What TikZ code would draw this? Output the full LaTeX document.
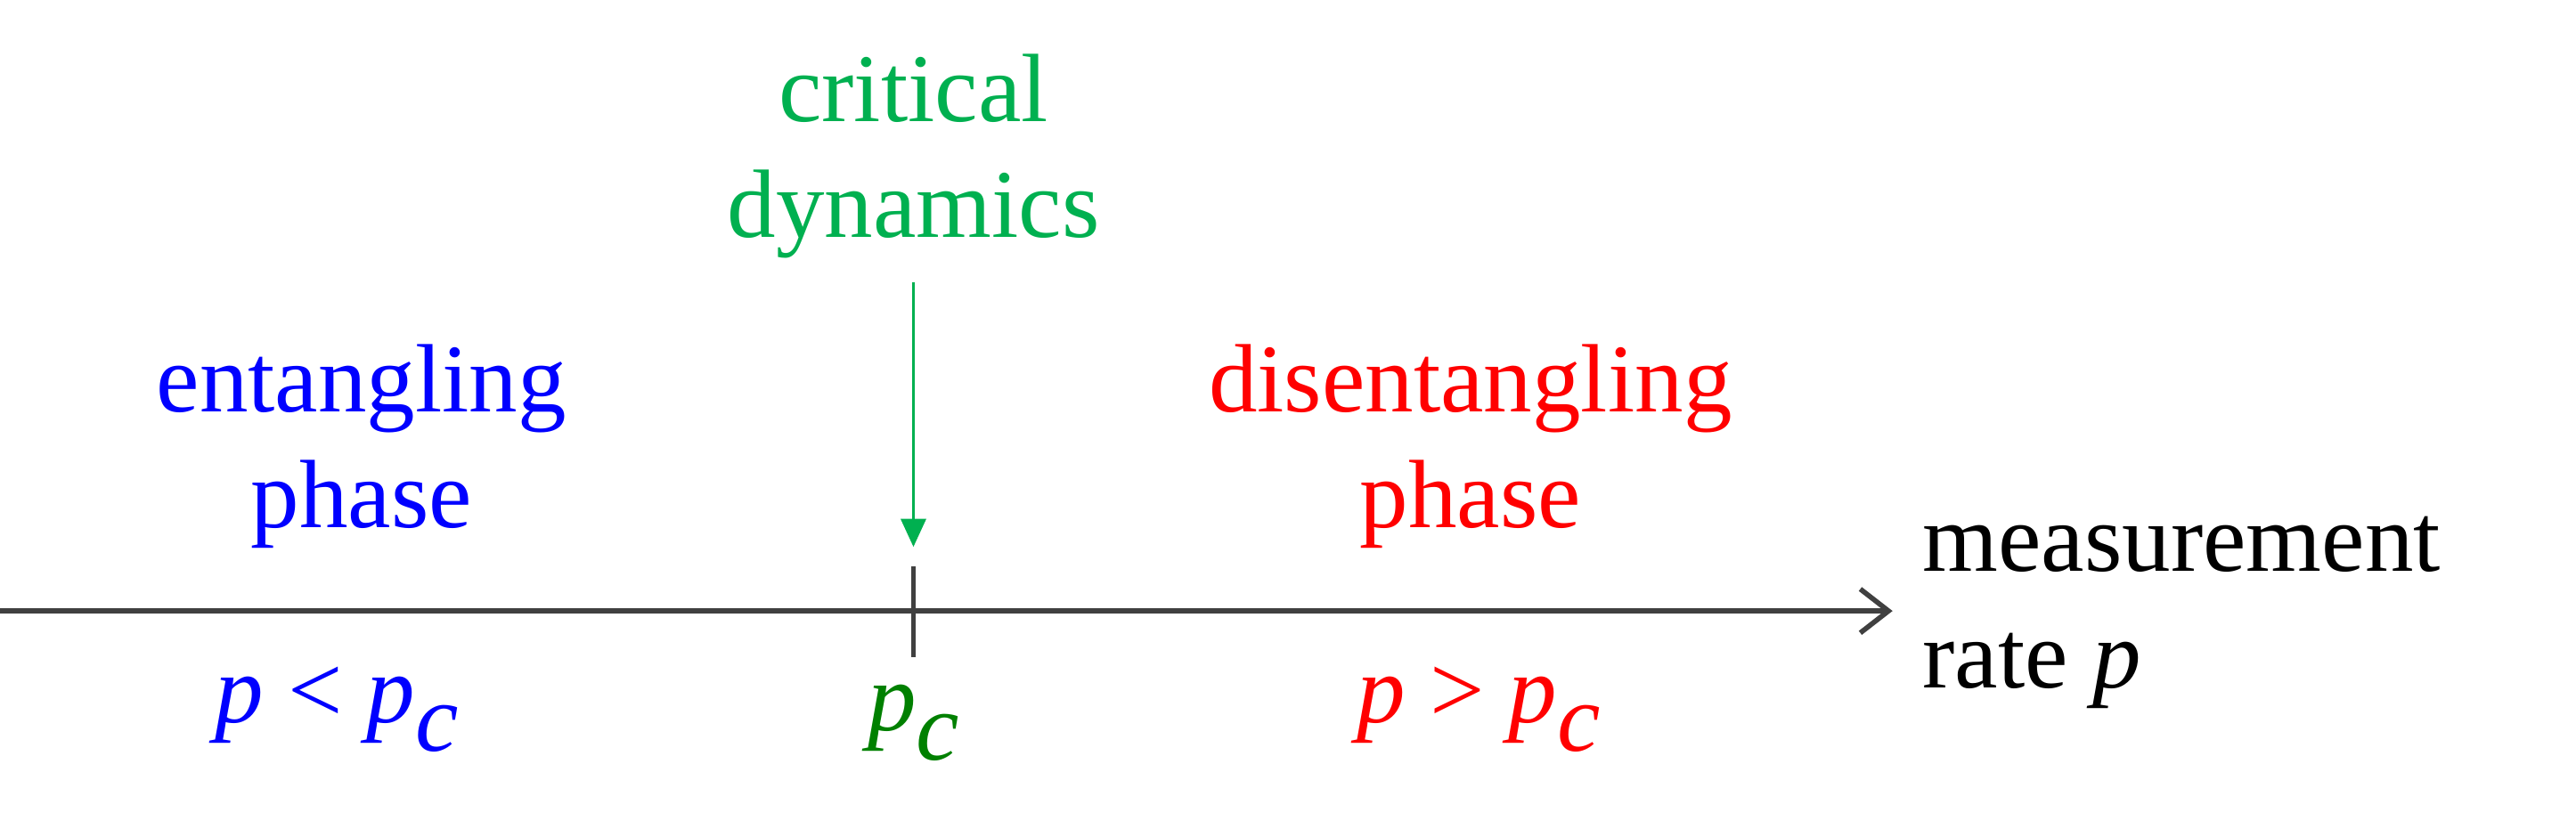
\documentclass[tikz,border=0pt]{standalone}
\usepackage{fontspec}
\setmainfont{Liberation Serif}
\usetikzlibrary{arrows.meta}
\definecolor{axisgray}{RGB}{64,64,64}
\definecolor{critgreen}{RGB}{0,176,80}
\definecolor{pcgreen}{RGB}{0,128,0}
\newcommand{\pp}{\textit{p}}
\newcommand{\pc}{\textit{p}\raisebox{-0.3em}{\textit{c}}}
\tikzset{
  lbl/.style={font=\fontsize{31}{37}\selectfont, align=center, inner sep=0pt},
  axisline/.style={draw=axisgray, line width=1.6pt, -{Straight Barb[length=9pt,width=14pt,line width=1.6pt]}},
}
\begin{document}
\begin{tikzpicture}[x=0.01844cm,y=-0.01844cm]
\useasboundingbox (0,0) rectangle (1568,499.4);
\coordinate (a0) at (0,372);
\coordinate (a1) at (1152,372);
\draw[axisline] (a0) -- (a1);
\coordinate (t0) at (556,345);
\coordinate (t1) at (556,400);
\draw[axisgray, line width=1.6pt] (t0) -- (t1);
\node[lbl, text=critgreen] (crit) at (556,95) {critical\\dynamics};
\coordinate (g0) at (556,172);
\coordinate (g1) at (556,333);
\draw[critgreen, line width=1pt, -{Triangle[length=9pt,width=8pt]}] (g0) -- (g1);
\node[lbl, text=blue] (ent) at (220,272) {entangling\\phase};
\node[lbl, text=red] (dis) at (895,272) {disentangling\\phase};
\node[lbl, align=left, anchor=west] (meas) at (1170,373) {measurement\\rate \pp};
\node[lbl, text=blue] (pl) at (205,432) {\pp{} < \pc};
\node[lbl, text=pcgreen] (pcn) at (556,440) {\pc};
\node[lbl, text=red] (pg) at (900,432) {\pp{} > \pc};
\end{tikzpicture}
\end{document}
